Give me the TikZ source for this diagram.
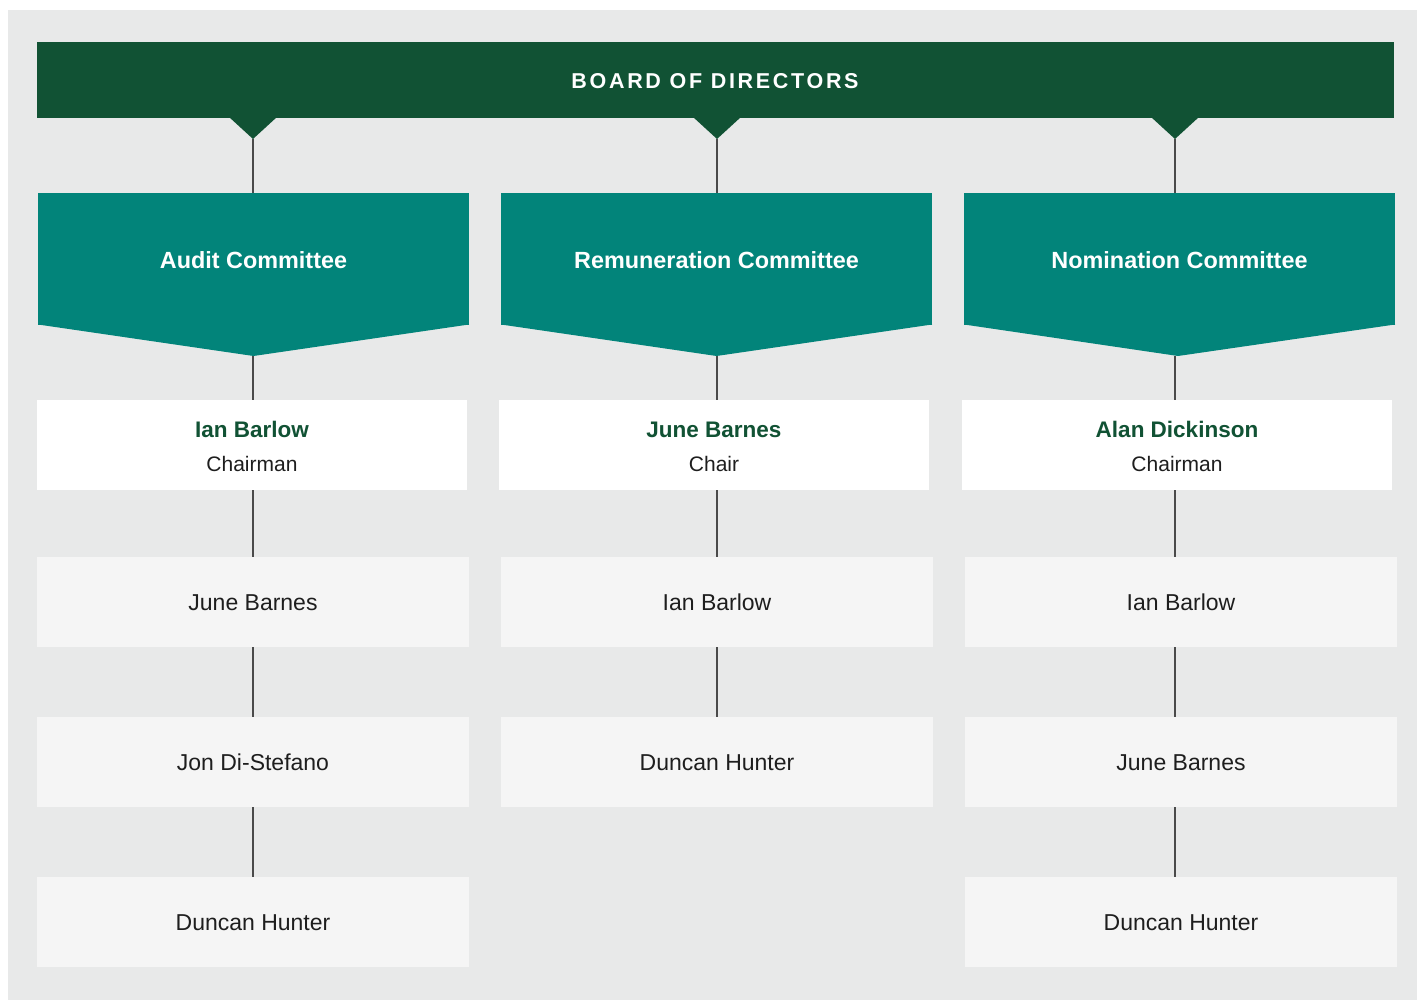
\documentclass[tikz,border=0pt]{standalone}
\usepackage{fontspec}
\setmainfont{Liberation Sans}
\definecolor{boardgreen}{HTML}{115234}
\definecolor{teal}{HTML}{02847A}
\definecolor{bggrey}{HTML}{E8E9E9}
\definecolor{memgrey}{HTML}{F5F5F5}
\definecolor{txt}{HTML}{1E1E1E}
\definecolor{linegrey}{HTML}{4A4A4A}
\begin{document}
\begin{tikzpicture}[x=1pt,y=-1pt,
  every node/.style={inner sep=0pt,outer sep=0pt},
  boardbox/.style={fill=boardgreen,anchor=north west,minimum width=1357pt,minimum height=76pt},
  boardtxt/.style={anchor=base,text=white,font=\fontsize{21.5}{26}\selectfont\bfseries\addfontfeatures{LetterSpace=12.5}},
  combox/.style={fill=teal,anchor=north west,minimum width=431pt,minimum height=132pt},
  comtxt/.style={anchor=base,text=white,font=\fontsize{23.4}{27}\selectfont\bfseries},
  chairbox/.style={fill=white,anchor=north west,minimum width=430pt,minimum height=90pt},
  membox/.style={fill=memgrey,anchor=north west,minimum width=432pt,minimum height=90pt,
    text height=16.5pt,text depth=0pt,
    text=txt,font=\fontsize{23}{27}\selectfont},
  conn/.style={draw=linegrey,line width=1.3pt},
  chairname/.style={anchor=base,text=boardgreen,font=\fontsize{22.5}{27}\selectfont\bfseries},
  chairrole/.style={anchor=base,text=txt,font=\fontsize{21}{25}\selectfont}
]
\useasboundingbox (0,0) rectangle (1417,1000);
\fill[white] (0,0) rectangle (1417,1000);
\fill[bggrey] (8,10) rectangle (1417,1000);

% Board
\node[boardbox] (board) at (37,42) {};
\node[boardtxt] (boardtext) at (715,88.5) {BOARD OF DIRECTORS};
\foreach \cx/\nm in {253/nA,717/nR,1175/nN}{
  \fill[boardgreen] (\cx-24,117) -- (\cx+24,117) -- (\cx,139) -- cycle;
  \coordinate (\nm) at (\cx,139);
}

% Committees
\node[combox] (audit) at (38,193) {};
\fill[teal] (38,324.5) -- (469,324.5) -- (253.5,356) -- cycle;
\coordinate (auditTip) at (253,356);
\node[comtxt] at (253.5,268.5) {Audit Committee};

\node[combox] (remun) at (501,193) {};
\fill[teal] (501,324.5) -- (932,324.5) -- (716.5,356) -- cycle;
\coordinate (remunTip) at (717,356);
\node[comtxt] at (716.5,268.5) {Remuneration Committee};

\node[combox] (nomin) at (964,193) {};
\fill[teal] (964,324.5) -- (1395,324.5) -- (1178,356) -- cycle;
\coordinate (nominTip) at (1175,356);
\node[comtxt] at (1179.5,268.5) {Nomination Committee};

% Chairs
\node[chairbox] (chA) at (37,400) {};
\node[chairname] at (252,437) {Ian Barlow};
\node[chairrole] at (252,471) {Chairman};
\node[chairbox] (chR) at (499,400) {};
\node[chairname] at (714,437) {June Barnes};
\node[chairrole] at (714,471) {Chair};
\node[chairbox] (chN) at (962,400) {};
\node[chairname] at (1177,437) {Alan Dickinson};
\node[chairrole] at (1177,471) {Chairman};

% Members
\node[membox] (a1) at (37,557) {June Barnes};
\node[membox] (a2) at (37,717) {Jon Di-Stefano};
\node[membox] (a3) at (37,877) {Duncan Hunter};
\node[membox] (r1) at (501,557) {Ian Barlow};
\node[membox] (r2) at (501,717) {Duncan Hunter};
\node[membox] (m1) at (965,557) {Ian Barlow};
\node[membox] (m2) at (965,717) {June Barnes};
\node[membox] (m3) at (965,877) {Duncan Hunter};

% Connectors
\draw[conn] (nA) -- (nA |- audit.north);
\draw[conn] (nR) -- (nR |- remun.north);
\draw[conn] (nN) -- (nN |- nomin.north);
\draw[conn] (auditTip) -- (auditTip |- chA.north);
\draw[conn] (remunTip) -- (remunTip |- chR.north);
\draw[conn] (nominTip) -- (nominTip |- chN.north);
\draw[conn] (auditTip |- chA.south) -- (auditTip |- a1.north);
\draw[conn] (auditTip |- a1.south) -- (auditTip |- a2.north);
\draw[conn] (auditTip |- a2.south) -- (auditTip |- a3.north);
\draw[conn] (remunTip |- chR.south) -- (remunTip |- r1.north);
\draw[conn] (remunTip |- r1.south) -- (remunTip |- r2.north);
\draw[conn] (nominTip |- chN.south) -- (nominTip |- m1.north);
\draw[conn] (nominTip |- m1.south) -- (nominTip |- m2.north);
\draw[conn] (nominTip |- m2.south) -- (nominTip |- m3.north);
\end{tikzpicture}
\end{document}
